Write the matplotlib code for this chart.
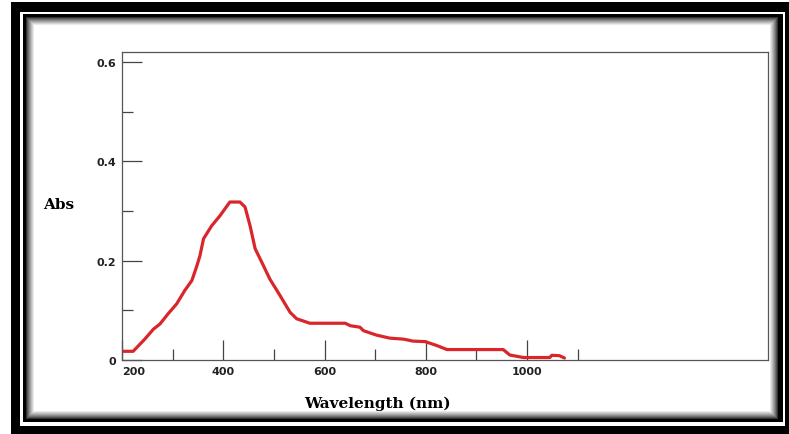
"""UV-Vis absorbance spectrum, framed panel."""

import matplotlib as mpl
import matplotlib.pyplot as plt
from matplotlib.patches import Rectangle

mpl.rcParams.update({
    "font.family": "DejaVu Sans",
    "font.size": 8,
    "figure.dpi": 100,
})

# ── Data ─────────────────────────────────────────────────────────────

wavelength = [199, 222, 245, 262, 275, 291, 308, 324, 338, 348, 354, 361,
              377, 394, 413, 433, 443, 453, 463, 476, 492, 512, 532, 545,
              571, 641, 651, 670, 677, 703, 729, 756, 775, 799, 822, 842,
              953, 966, 993, 1045, 1049, 1064, 1074]
absorbance = [0.0175, 0.0175, 0.042, 0.062, 0.0725, 0.093, 0.113, 0.140,
              0.160, 0.190, 0.210, 0.244, 0.270, 0.291, 0.318, 0.318, 0.308,
              0.270, 0.224, 0.197, 0.163, 0.130, 0.096, 0.083, 0.074, 0.074,
              0.069, 0.066, 0.059, 0.050, 0.044, 0.042, 0.038, 0.037, 0.029,
              0.021, 0.021, 0.010, 0.005, 0.005, 0.0095, 0.0087, 0.004]

x_major = [200, 400, 600, 800, 1000]
x_minor = [300, 500, 700, 900, 1100]
y_major = [0, 0.2, 0.4, 0.6]
y_minor = [0.1, 0.3, 0.5]
y_labels = ["0", "0.2", "0.4", "0.6"]

W, H = 789, 435
fig = plt.figure(figsize=(W / 100, H / 100))

# ── Frame (pixel coords) ─────────────────────────────────────────────
bg = fig.add_axes([0, 0, 1, 1], zorder=0)
bg.set_xlim(0, W)
bg.set_ylim(H, 0)
bg.axis("off")

def box(x0, y0, x1, y1, c):
    bg.add_patch(Rectangle((x0, y0), x1 - x0, y1 - y0, color=c, lw=0))

box(0, 0, W, H, "white")
box(11, 3, W, H, "black")          # outer band
box(20, 13, 785, 427, "white")     # thin light gap
box(23, 15, 783, 423, "black")     # inner band
# soft shadow fading inward
n = 9
for i in range(n):
    g = ((i + 1) / n) ** 0.75
    box(26 + i, 18 + i, 778 - i, 420 - i, (g, g, g))
box(26 + n, 18 + n, 778 - n, 420 - n, "white")

# ── Spectrum ─────────────────────────────────────────────────────────
ax = fig.add_axes([122 / W, (H - 361) / H, (768 - 122) / W, (361 - 53) / H],
                  zorder=1)
ax.plot(wavelength, absorbance, color="#d9262b", linewidth=2.3,
        solid_joinstyle="round", solid_capstyle="round")

ax.set_xlim(200, 1476)
ax.set_ylim(0, 0.620)

for s in ax.spines.values():
    s.set_color("#555555")
    s.set_linewidth(0.9)

ax.set_xticks(x_major)
ax.set_xticks(x_minor, minor=True)
ax.set_yticks(y_major)
ax.set_yticks(y_minor, minor=True)
ax.set_yticklabels(y_labels)

ax.tick_params(which="major", direction="in", length=14.5, width=0.9,
               color="#444444", pad=4)
ax.tick_params(which="minor", direction="in", length=8, width=0.9,
               color="#444444")
ax.tick_params(axis="both", labelsize=8, labelcolor="#222222")
for lab in ax.get_xticklabels() + ax.get_yticklabels():
    lab.set_fontweight("bold")
ax.get_xticklabels()[0].set_horizontalalignment("left")

fig.text(43 / W, (H - 205) / H, "Abs", family="DejaVu Serif",
         fontweight="bold", fontsize=11, ha="left", va="center")
fig.text(377 / W, (H - 404) / H, "Wavelength (nm)", family="DejaVu Serif",
         fontweight="bold", fontsize=11, ha="center", va="center")

fig.savefig("out.png", dpi=100)
